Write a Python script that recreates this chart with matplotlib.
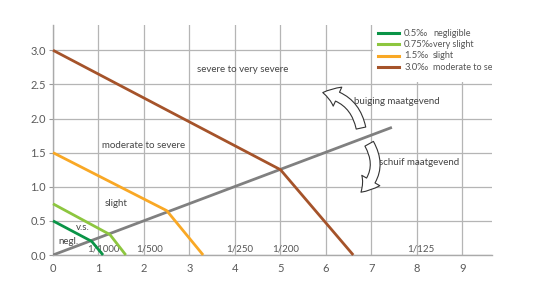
import matplotlib
matplotlib.use("Agg")
import matplotlib.pyplot as plt
from matplotlib.patches import FancyArrowPatch, Rectangle

plt.rcParams['font.family'] = ['Lato', 'DejaVu Sans']

# data
neg_x = [0, 0.85, 1.1]
neg_y = [0.5, 0.2, 0.0]
vs_x = [0, 1.25, 1.6]
vs_y = [0.75, 0.3, 0.0]
sl_x = [0, 2.5, 3.3]
sl_y = [1.5, 0.65, 0.0]
mod_x = [0, 5.0, 6.6]
mod_y = [3.0, 1.25, 0.0]
gray_x = [0, 7.45]
gray_y = [0, 1.87]

series_colors = ['#0a9447', '#8dc63f', '#f9a825', '#a5532a']
legend_pct = ['0.5‰', '0.75‰', '1.5‰', '3.0‰']
legend_desc = ['negligible', 'very slight', 'slight', 'moderate to severe']

xticks = list(range(0, 10))
yticks = [0.0, 0.5, 1.0, 1.5, 2.0, 2.5, 3.0]

region_labels = [
    (3.16, 2.72, 'severe to very severe'),
    (1.08, 1.61, 'moderate to severe'),
    (1.14, 0.76, 'slight'),
    (0.5, 0.41, 'v.s.'),
    (0.11, 0.20, 'negl.'),
]
ratio_labels = [(0.75, '1/1000'), (1.82, '1/500'), (3.80, '1/250'),
                (4.81, '1/200'), (7.78, '1/125')]

fig = plt.figure(figsize=(5.45, 2.81), dpi=100)
ax = fig.add_axes([53/545, 1-255/281, 439/545, 230/281])
ax.set_xlim(0, 9.65)
ax.set_ylim(0, 3.37)
ax.set_axisbelow(True)
ax.grid(True, color='#b5b5b5', linewidth=0.9)
ax.set_xticks(xticks)
ax.set_yticks(yticks)
ax.set_yticklabels([f'{v:.1f}' for v in yticks])
ax.tick_params(axis='x', length=0, pad=6, labelsize=8, labelcolor='#5a5a5a')
ax.tick_params(axis='y', length=3, color='#999999', pad=2, labelsize=8, labelcolor='#5a5a5a')
for s in ['top', 'right']:
    ax.spines[s].set_visible(False)
for s in ['left', 'bottom']:
    ax.spines[s].set_color('#aaaaaa')
    ax.spines[s].set_linewidth(1.0)

lw = 2.0
ax.plot(gray_x, gray_y, color='#808080', lw=lw, zorder=3, solid_capstyle='butt')
for xs, ys, c in zip([neg_x, vs_x, sl_x, mod_x], [neg_y, vs_y, sl_y, mod_y], series_colors):
    ax.plot(xs, ys, color=c, lw=lw, zorder=4, solid_capstyle='butt', clip_on=False)

tc = '#444444'
fs = 7.0
for x, y, t in region_labels:
    ax.text(x, y, t, fontsize=fs, color=tc, va='center', ha='left', zorder=2)
for x, t in ratio_labels:
    ax.text(x, 0.015, t, fontsize=fs, color='#555555', va='bottom', ha='left', zorder=2)

ax.text(6.62, 2.25, 'buiging maatgevend', fontsize=fs, color=tc, va='center', ha='left')
ax.text(7.16, 1.35, 'schuif maatgevend', fontsize=fs, color=tc, va='center', ha='left')

arrow_style = "simple,head_width=15,head_length=11,tail_width=7"
a1 = FancyArrowPatch((6.77, 1.86), (5.93, 2.38), connectionstyle="arc3,rad=0.35",
                     arrowstyle=arrow_style, facecolor='white', edgecolor='#333333',
                     linewidth=0.8, zorder=5, shrinkA=0, shrinkB=0)
a2 = FancyArrowPatch((6.95, 1.63), (6.77, 0.92), connectionstyle="arc3,rad=-0.4",
                     arrowstyle=arrow_style, facecolor='white', edgecolor='#333333',
                     linewidth=0.8, zorder=5, shrinkA=0, shrinkB=0)
ax.add_patch(a1)
ax.add_patch(a2)

# legend box (white background, clipped at axes edge)
ax.add_patch(Rectangle((7.03, 2.53), 9.65 - 7.03, 3.37 - 2.53, facecolor='white',
                       edgecolor='none', zorder=1))
rows = [0.964, 0.916, 0.866, 0.817]
for yv, c, p, d in zip(rows, series_colors, legend_pct, legend_desc):
    ax.plot([0.740, 0.788], [yv, yv], transform=ax.transAxes, color=c, lw=2.2, zorder=6)
    ax.text(0.800, yv, p, transform=ax.transAxes, fontsize=6.8, color='#555555',
            va='center', ha='left', zorder=6, clip_on=True)
    ax.text(0.866, yv, d, transform=ax.transAxes, fontsize=6.5, color='#555555',
            va='center', ha='left', zorder=6, clip_on=True)

fig.savefig('out.png', dpi=100)
